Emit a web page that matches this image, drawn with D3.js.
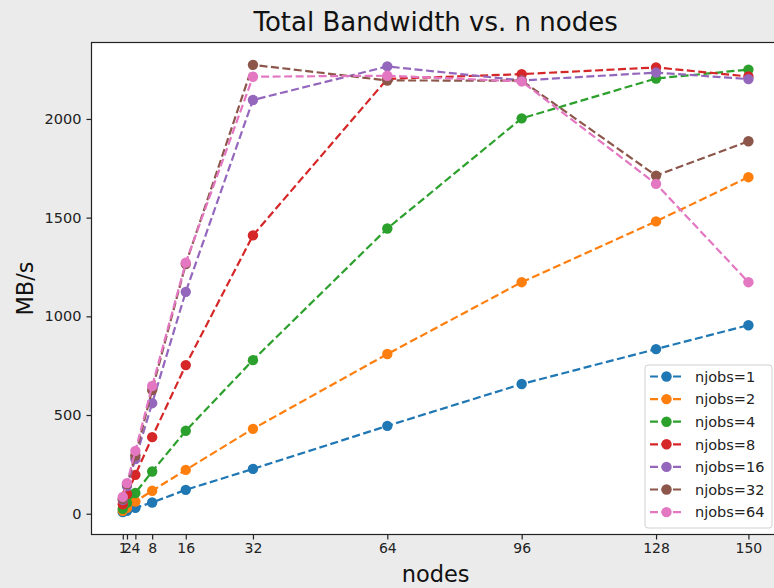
<!DOCTYPE html>
<html>
<head>
<meta charset="utf-8">
<script src="https://cdn.jsdelivr.net/npm/d3@7"></script>
<style>
  html, body { margin: 0; padding: 0; background: #ebebeb; }
  svg { display: block; }
  text { font-family: "DejaVu Sans", sans-serif; }
</style>
</head>
<body>
<svg id="chart" width="774" height="588"></svg>
<script>
// ---- data ----
const nodes = [1, 2, 4, 8, 16, 32, 64, 96, 128, 150];
const xTicks = [1, 2, 4, 8, 16, 32, 64, 96, 128, 150];
const yTicks = [0, 500, 1000, 1500, 2000];
const seriesNames = ["njobs=1", "njobs=2", "njobs=4", "njobs=8", "njobs=16", "njobs=32", "njobs=64"];
const colors = ["#1f77b4", "#ff7f0e", "#2ca02c", "#d62728", "#9467bd", "#8c564b", "#e377c2"];
const njobs1  = [8, 15, 30, 57, 121, 227, 445, 657, 834, 955];
const njobs2  = [15, 30, 62, 116, 222, 430, 809, 1173, 1481, 1705];
const njobs4  = [25, 55, 105, 214, 420, 778, 1445, 2003, 2205, 2250];
const njobs8  = [48, 100, 197, 388, 753, 1410, 2203, 2227, 2261, 2215];
const njobs16 = [70, 140, 277, 560, 1124, 2096, 2266, 2195, 2235, 2202];
const njobs32 = [75, 150, 295, 627, 1265, 2274, 2195, 2194, 1713, 1887];
const njobs64 = [85, 155, 318, 647, 1272, 2214, 2219, 2190, 1671, 1173];
const allSeries = [njobs1, njobs2, njobs4, njobs8, njobs16, njobs32, njobs64];
const titleText = "Total Bandwidth vs. n nodes";
const xLabel = "nodes";
const yLabel = "MB/s";

// ---- layout ----
const svg = d3.select("#chart");
const mLeft = 91.5, mRight = 779.7, mTop = 42.5, mBottom = 534.5;

const allVals = allSeries.flat();
const xMin = d3.min(nodes), xMax = d3.max(nodes);
const xPad = (xMax - xMin) * 0.05;
const yMin = d3.min(allVals), yMax = d3.max(allVals);
const yPad = (yMax - yMin) * 0.05;

const x = d3.scaleLinear().domain([xMin - xPad, xMax + xPad]).range([mLeft, mRight]);
const y = d3.scaleLinear().domain([yMin - yPad, yMax + yPad]).range([mBottom, mTop]);

// plot background
svg.append("rect").attr("x", mLeft).attr("y", mTop)
  .attr("width", mRight - mLeft).attr("height", mBottom - mTop)
  .attr("fill", "#ffffff");

// series
const line = d3.line().x((d, i) => x(nodes[i])).y(d => y(d));
allSeries.forEach((s, k) => {
  const g = svg.append("g");
  g.append("path").datum(s)
    .attr("d", line)
    .attr("fill", "none")
    .attr("stroke", colors[k])
    .attr("stroke-width", 2.2)
    .attr("stroke-dasharray", "8,3.5");
  g.selectAll("circle").data(s).enter().append("circle")
    .attr("cx", (d, i) => x(nodes[i]))
    .attr("cy", d => y(d))
    .attr("r", 5.2)
    .attr("fill", colors[k]);
});

// spines
svg.append("rect").attr("x", mLeft).attr("y", mTop)
  .attr("width", mRight - mLeft).attr("height", mBottom - mTop)
  .attr("fill", "none").attr("stroke", "#222").attr("stroke-width", 1.2);

// axes
const xAxis = d3.axisBottom(x).tickValues(xTicks).tickSize(5).tickPadding(4).tickFormat(d3.format("d"));
const gx = svg.append("g").attr("transform", `translate(0,${mBottom})`).call(xAxis);
gx.select(".domain").remove();
gx.selectAll(".tick line").attr("stroke", "#222").attr("stroke-width", 1.2);
gx.selectAll(".tick text").attr("font-size", "14px").attr("fill", "#222")
  .attr("font-family", "DejaVu Sans, sans-serif");

const yAxis = d3.axisLeft(y).tickValues(yTicks).tickSize(5).tickPadding(5).tickFormat(d3.format("d"));
const gy = svg.append("g").attr("transform", `translate(${mLeft},0)`).call(yAxis);
gy.select(".domain").remove();
gy.selectAll(".tick line").attr("stroke", "#222").attr("stroke-width", 1.2);
gy.selectAll(".tick text").attr("font-size", "14.5px").attr("fill", "#222")
  .attr("font-family", "DejaVu Sans, sans-serif");

// title and labels
const cx = (mLeft + mRight) / 2;
svg.append("text").attr("x", cx).attr("y", 31)
  .attr("text-anchor", "middle").attr("font-size", "26px").attr("fill", "#111")
  .text(titleText);
svg.append("text").attr("x", cx).attr("y", 582)
  .attr("text-anchor", "middle").attr("font-size", "22.5px").attr("fill", "#111")
  .text(xLabel);
svg.append("text")
  .attr("transform", `translate(33,${(mTop + mBottom) / 2}) rotate(-90)`)
  .attr("text-anchor", "middle").attr("font-size", "22.5px").attr("fill", "#111")
  .text(yLabel);

// legend
const lgX = 645, lgY = 365, lgW = 127, lgH = 163, rowH = 22.6;
svg.append("rect").attr("x", lgX).attr("y", lgY).attr("width", lgW).attr("height", lgH)
  .attr("rx", 3).attr("fill", "#ffffff").attr("fill-opacity", 0.8)
  .attr("stroke", "#d0d0d0").attr("stroke-width", 1);
seriesNames.forEach((name, k) => {
  const ry = lgY + 11.5 + k * rowH;
  svg.append("line").attr("x1", 650).attr("x2", 682).attr("y1", ry).attr("y2", ry)
    .attr("stroke", colors[k]).attr("stroke-width", 2.2).attr("stroke-dasharray", "8,3.5");
  svg.append("circle").attr("cx", 666.5).attr("cy", ry).attr("r", 5.2).attr("fill", colors[k]);
  svg.append("text").attr("x", 695).attr("y", ry + 5.2)
    .attr("font-size", "14.5px").attr("fill", "#222").text(name);
});
</script>
</body>
</html>
